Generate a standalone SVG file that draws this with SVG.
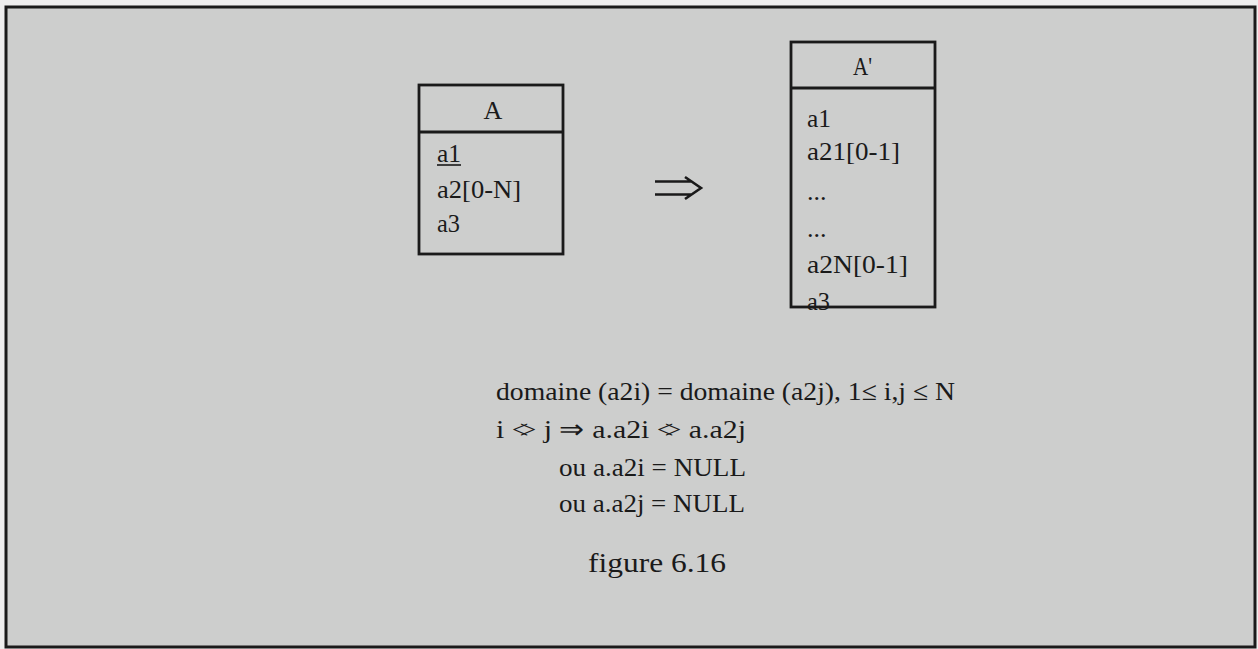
<svg xmlns="http://www.w3.org/2000/svg" width="1258" height="649" viewBox="0 0 1258 649">
<style>
.t{font-family:"Liberation Serif","Times New Roman",serif;font-size:26px;fill:#1a1a1a}
.box{fill:none;stroke:#1a1a1a;stroke-width:2.8}
.arr{fill:none;stroke:#1a1a1a;stroke-width:2.6}
</style>
<rect x="0" y="0" width="1258" height="649" fill="#eeeeee"/>
<rect x="6" y="7" width="1249" height="640" fill="#cdcecd" stroke="#1a1a1a" stroke-width="3"/>
<g id="nodeA">
<rect class="box" x="419" y="85" width="144" height="169"/>
<line class="box" x1="419" y1="132" x2="563" y2="132"/>
<text class="t" x="493" y="119" text-anchor="middle">A</text>
<text class="t" x="437" y="162" textLength="24" lengthAdjust="spacingAndGlyphs">a1</text>
<line x1="437" y1="165" x2="461" y2="165" stroke="#1a1a1a" stroke-width="1.6"/>
<text class="t" x="437" y="198" textLength="84" lengthAdjust="spacingAndGlyphs">a2[0-N]</text>
<text class="t" x="437" y="232" textLength="23" lengthAdjust="spacingAndGlyphs">a3</text>
</g>
<g id="nodeA2">
<rect class="box" x="791" y="42" width="144" height="265"/>
<line class="box" x1="791" y1="88" x2="935" y2="88"/>
<text class="t" x="853" y="75" textLength="19" lengthAdjust="spacingAndGlyphs">A'</text>
<text class="t" x="807" y="127" textLength="24" lengthAdjust="spacingAndGlyphs">a1</text>
<text class="t" x="807" y="160" textLength="93" lengthAdjust="spacingAndGlyphs">a21[0-1]</text>
<text class="t" x="807" y="200">...</text>
<text class="t" x="807" y="237">...</text>
<text class="t" x="807" y="273" textLength="101" lengthAdjust="spacingAndGlyphs">a2N[0-1]</text>
<text class="t" x="807" y="310" textLength="23" lengthAdjust="spacingAndGlyphs">a3</text>
</g>
<g id="connectors">
<path class="arr" d="M655 181.5 H691 M655 194.5 H691 M685 177 L701 188 L685 199"/>
</g>
<g id="constraints">
<text class="t" x="496" y="400" textLength="459" lengthAdjust="spacingAndGlyphs">domaine (a2i) = domaine (a2j), 1≤ i,j ≤ N</text>
<text class="t" x="496" y="438" textLength="250" lengthAdjust="spacingAndGlyphs">i <tspan letter-spacing="-8">&lt;</tspan>&gt; j ⇒ a.a2i <tspan letter-spacing="-8">&lt;</tspan>&gt; a.a2j</text>
<text class="t" x="559" y="476" textLength="187" lengthAdjust="spacingAndGlyphs">ou a.a2i = NULL</text>
<text class="t" x="559" y="512" textLength="186" lengthAdjust="spacingAndGlyphs">ou a.a2j = NULL</text>
<text class="t" x="588" y="572" style="font-size:28px" textLength="138" lengthAdjust="spacingAndGlyphs">figure 6.16</text>
</g>
</svg>
